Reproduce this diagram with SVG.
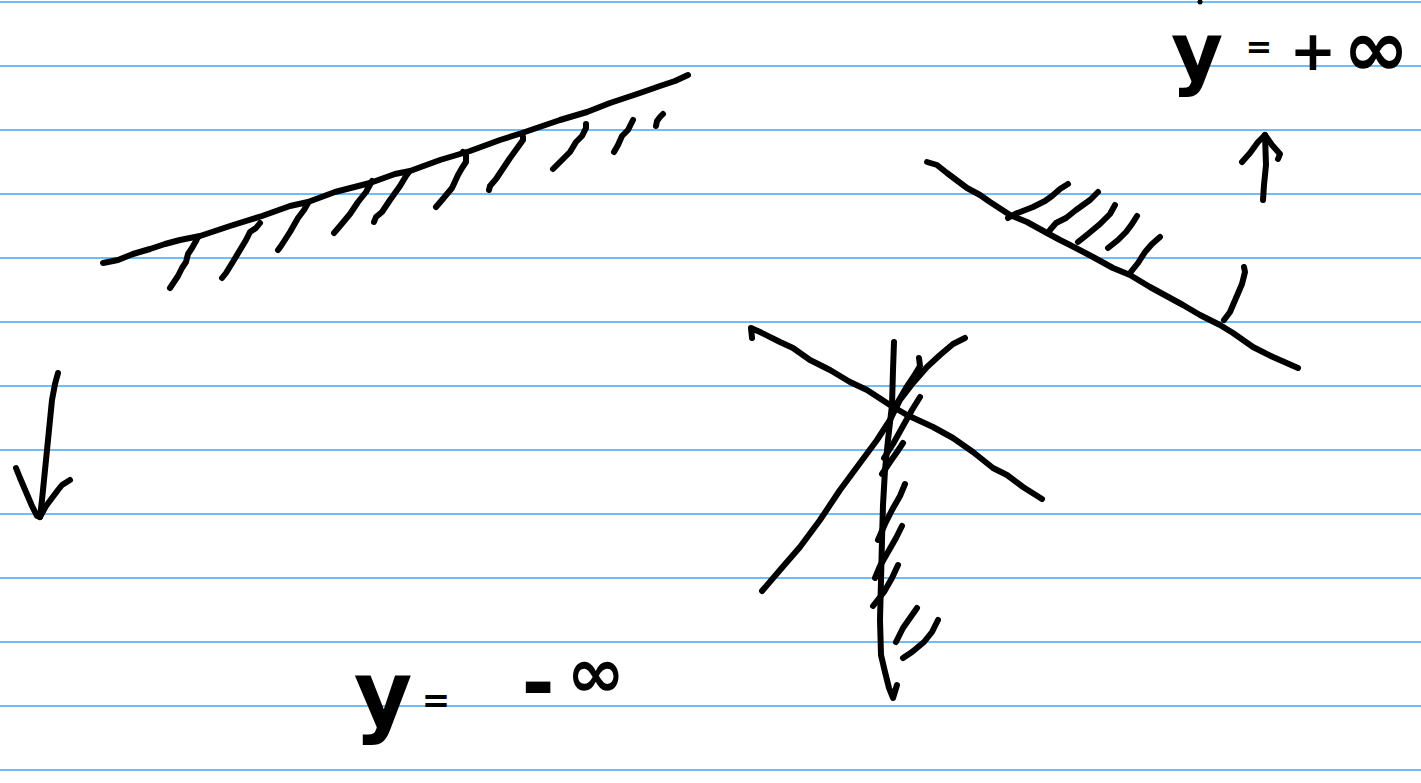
<svg xmlns="http://www.w3.org/2000/svg" width="1421" height="783" viewBox="0 0 1421 783">
<style>
.rule{stroke:#3ea6f6;stroke-width:1.5}
.ink{fill:none;stroke:#000;stroke-width:6;stroke-linecap:round;stroke-linejoin:round}
.hand{font-family:"DejaVu Sans","Liberation Sans",sans-serif;font-weight:bold;fill:#000}
</style>
<rect width="1421" height="783" fill="#fff"/>
<g id="paper-rules">
<line class="rule" x1="0" y1="2" x2="1421" y2="2"/>
<line class="rule" x1="0" y1="66" x2="1421" y2="66"/>
<line class="rule" x1="0" y1="130" x2="1421" y2="130"/>
<line class="rule" x1="0" y1="194" x2="1421" y2="194"/>
<line class="rule" x1="0" y1="258" x2="1421" y2="258"/>
<line class="rule" x1="0" y1="322" x2="1421" y2="322"/>
<line class="rule" x1="0" y1="386" x2="1421" y2="386"/>
<line class="rule" x1="0" y1="450" x2="1421" y2="450"/>
<line class="rule" x1="0" y1="514" x2="1421" y2="514"/>
<line class="rule" x1="0" y1="578" x2="1421" y2="578"/>
<line class="rule" x1="0" y1="642" x2="1421" y2="642"/>
<line class="rule" x1="0" y1="706" x2="1421" y2="706"/>
<line class="rule" x1="0" y1="770" x2="1421" y2="770"/>
</g>
<g id="top-left-boundary">
<polyline class="ink" points="103,263 118,260 133,254 150,249 165,244 180,240 200,236 230,226 262,216 290,206 308,202 335,192 370,183 395,174 410,171 440,160 470,151 500,140 522,133 560,120 587,112 610,103 640,93 660,86 675,81 688,75"/>
<polyline class="ink" points="170,288 174,282 178,276 182,268 186,262 188,254 192,248 196,241 198,237"/>
<polyline class="ink" points="222,278 226,273 234,260 240,250 246,240 250,232 256,228 260,223"/>
<polyline class="ink" points="278,250 281,246 290,232 298,218 304,210 308,203"/>
<polyline class="ink" points="334,233 340,226 350,214 358,202 366,192 372,181"/>
<polyline class="ink" points="374,222 376,217 382,212 390,200 400,186 406,176 409,172"/>
<polyline class="ink" points="436,207 442,200 452,188 458,175 462,168 466,162 466,154 463,152"/>
<polyline class="ink" points="489,190 490,186 496,179 502,170 510,158 518,147 523,140 523,137"/>
<polyline class="ink" points="553,169 560,162 570,152 576,142 582,136 586,128 586,124"/>
<polyline class="ink" points="614,152 618,145 622,136 628,130 633,120"/>
<polyline class="ink" points="656,126 657,121 660,117 663,114"/>
</g>
<g id="left-down-arrow">
<polyline class="ink" points="58,373 55,384 52,400 50,420 48,440 46,460 44,480 42,500 40,517"/>
<polyline class="ink" points="16,468 20,478 26,492 32,506 37,516 40,517"/>
<polyline class="ink" points="40,517 46,506 52,498 58,490 62,485 70,480"/>
</g>
<g id="right-boundary">
<polyline class="ink" points="927,162 937,165 947,173 967,188 980,195 990,202 1010,215 1027,222 1047,233 1060,240 1070,245 1093,257 1113,268 1130,275 1150,287 1183,305 1200,315 1220,325 1233,333 1253,347 1273,357 1298,368"/>
<polyline class="ink" points="1008,218 1015,214 1033,207 1045,201 1052,196 1060,189 1068,184"/>
<polyline class="ink" points="1050,230 1056,223 1066,218 1076,210 1090,200 1098,192"/>
<polyline class="ink" points="1078,242 1088,234 1100,224 1110,214 1115,205"/>
<polyline class="ink" points="1108,248 1118,240 1126,232 1132,224 1137,216"/>
<polyline class="ink" points="1130,273 1138,263 1145,252 1152,244 1160,237"/>
<polyline class="ink" points="1224,320 1230,312 1236,298 1242,284 1245,272 1244,267"/>
</g>
<g id="up-arrow">
<polyline class="ink" points="1263,200 1264,185 1266,165 1265,135"/>
<polyline class="ink" points="1242,162 1250,153 1258,142 1265,135 1272,145 1280,154 1278,159"/>
</g>
<g id="x-diagram">
<polyline class="ink" points="752,338 751,328 760,332 780,342 793,348 810,360 830,370 850,382 867,390 890,405 907,415 933,427 953,438 973,452 993,468 1007,475 1023,487 1042,499"/>
<polyline class="ink" points="762,591 780,570 800,547 820,520 840,490 860,463 877,440 890,420 900,400 913,383 927,367 940,355 953,344 965,338"/>
<polyline class="ink" points="894,342 893,370 892,405 888,440 885,470 883,505 882,540 881,580 880,620 881,655 885,672 889,688 893,698 897,685"/>
<polyline class="ink" points="919,358 920,366 914,376 906,388 899,400 893,410"/>
<polyline class="ink" points="920,397 912,410 903,426 893,444 884,458"/>
<polyline class="ink" points="903,443 897,452 890,462 882,474"/>
<polyline class="ink" points="905,484 900,496 892,510 885,524 878,540"/>
<polyline class="ink" points="902,526 896,538 888,552 880,566 875,578"/>
<polyline class="ink" points="898,565 892,578 884,592 873,606"/>
<polyline class="ink" points="917,608 910,618 903,628 896,642"/>
<polyline class="ink" points="938,620 932,632 924,642 912,652 903,658"/>
</g>
<g id="label-plus-inf">
<circle cx="1200" cy="2" r="2.5" fill="#000"/>
<text class="hand"><tspan x="1197" y="80" font-size="80" text-anchor="middle">y</tspan><tspan x="1259" y="58" font-size="32" text-anchor="middle">=</tspan><tspan x="1313" y="70" font-size="56" text-anchor="middle">+</tspan><tspan x="1376" y="76" font-size="80" text-anchor="middle">∞</tspan></text>
</g>
<g id="label-minus-inf">
<text class="hand"><tspan x="383" y="725" font-size="90" text-anchor="middle">y</tspan><tspan x="436" y="712" font-size="34" text-anchor="middle">=</tspan><tspan x="538" y="710" font-size="80" text-anchor="middle">-</tspan><tspan x="596" y="697" font-size="70" text-anchor="middle">∞</tspan></text>
</g>
</svg>
